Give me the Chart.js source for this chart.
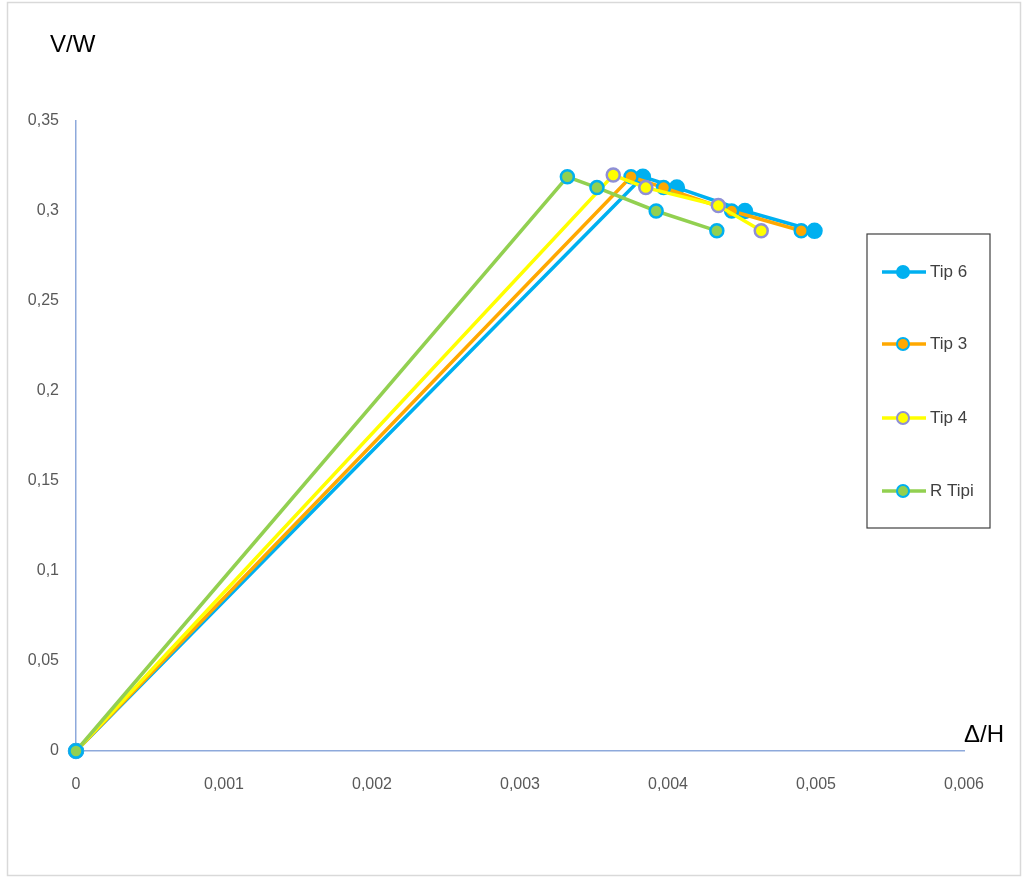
<!DOCTYPE html>
<html lang="tr">
<head>
    <meta charset="UTF-8">
    <title>V/W - Δ/H</title>
    <script src="https://cdn.jsdelivr.net/npm/chart.js"></script>
    <style>
        body { margin: 0; background: #fff; }
        canvas { display: block; }
    </style>
</head>
<body>
    <canvas id="chart" width="1026" height="878"></canvas>
    <script>
        // Seri adlari ve degerleri
        const seriesNames = ['Tip 6', 'Tip 3', 'Tip 4', 'R Tipi'];
        const tip6X = [0, 0.00383, 0.00406, 0.00452, 0.00499];
        const tip6Y = [0, 0.319, 0.313, 0.300, 0.289];
        const tip3X = [0, 0.00375, 0.00397, 0.00443, 0.00490];
        const tip3Y = [0, 0.319, 0.313, 0.300, 0.289];
        const tip4X = [0, 0.00363, 0.00385, 0.00434, 0.00463];
        const tip4Y = [0, 0.320, 0.313, 0.303, 0.289];
        const rTipiX = [0, 0.00332, 0.00352, 0.00392, 0.00433];
        const rTipiY = [0, 0.319, 0.313, 0.300, 0.289];
        const xTicks = [0, 0.001, 0.002, 0.003, 0.004, 0.005, 0.006];
        const yTicks = [0, 0.05, 0.1, 0.15, 0.2, 0.25, 0.3, 0.35];

        const toPoints = (xs, ys) => xs.map((x, i) => ({ x: x, y: ys[i] }));
        const fmt = v => String(Number(v.toFixed(4))).replace('.', ',');

        const styles = [
            { line: '#00B0F0', fill: '#00B0F0', border: '#00B0F0', r: 7 },
            { line: '#FFA800', fill: '#FFA800', border: '#00B0F0', r: 6.5 },
            { line: '#FFFF00', fill: '#FFFF00', border: '#8E8FD6', r: 6.5 },
            { line: '#92D050', fill: '#92D050', border: '#00B0F0', r: 6.5 }
        ];
        const seriesData = [
            toPoints(tip6X, tip6Y),
            toPoints(tip3X, tip3Y),
            toPoints(tip4X, tip4Y),
            toPoints(rTipiX, rTipiY)
        ];

        const datasets = seriesNames.map((name, i) => ({
            label: name,
            data: seriesData[i],
            showLine: true,
            borderColor: styles[i].line,
            borderWidth: 3.5,
            pointBackgroundColor: styles[i].fill,
            pointBorderColor: styles[i].border,
            pointBorderWidth: 2.5,
            pointRadius: styles[i].r,
            clip: false,
            order: 3 - i
        }));

        // Cerceve, eksen basliklari ve lejant
        const extras = {
            id: 'extras',
            beforeDraw(chart) {
                const c = chart.ctx;
                c.save();
                c.fillStyle = '#fff';
                c.fillRect(0, 0, chart.width, chart.height);
                c.strokeStyle = '#D9D9D9';
                c.lineWidth = 1.5;
                c.strokeRect(7.5, 2.5, 1013, 873);
                c.restore();
            },
            afterDraw(chart) {
                const c = chart.ctx;
                c.save();
                c.fillStyle = '#000';
                c.font = '24px "Liberation Sans", Arial, sans-serif';
                c.textBaseline = 'middle';
                c.textAlign = 'left';
                c.fillText('V/W', 50, 45);
                c.fillText('Δ/H', 964, 735);

                // lejant kutusu
                c.strokeStyle = '#404040';
                c.lineWidth = 1.2;
                c.strokeRect(867, 234, 123, 294);
                const rows = [272, 344, 418, 491];
                chart.data.datasets.forEach((ds, i) => {
                    const y = rows[i];
                    c.strokeStyle = ds.borderColor;
                    c.lineWidth = 3.5;
                    c.beginPath();
                    c.moveTo(882, y);
                    c.lineTo(926, y);
                    c.stroke();
                    c.beginPath();
                    c.arc(903, y, 6, 0, Math.PI * 2);
                    c.fillStyle = ds.pointBackgroundColor;
                    c.fill();
                    c.lineWidth = 2;
                    c.strokeStyle = ds.pointBorderColor;
                    c.stroke();
                    c.fillStyle = '#404040';
                    c.font = '17px "Liberation Sans", Arial, sans-serif';
                    c.fillText(ds.label, 930, y);
                });
                c.restore();
            }
        };

        new Chart(document.getElementById('chart'), {
            type: 'scatter',
            data: { datasets: datasets },
            options: {
                responsive: false,
                animation: false,
                layout: { padding: { left: 0, top: 121, right: 62, bottom: 0 } },
                plugins: { legend: { display: false }, tooltip: { enabled: false } },
                scales: {
                    x: {
                        type: 'linear',
                        min: 0,
                        max: 0.006,
                        afterBuildTicks: axis => { axis.ticks = xTicks.map(v => ({ value: v })); },
                        afterFit: axis => { axis.height = 127; },
                        grid: { display: false, drawTicks: false },
                        border: { color: '#8EA9DB', width: 1.5 },
                        ticks: {
                            padding: 24,
                            color: '#595959',
                            font: { size: 16, family: '"Liberation Sans", Arial, sans-serif' },
                            callback: v => fmt(v)
                        }
                    },
                    y: {
                        type: 'linear',
                        min: 0,
                        max: 0.35,
                        afterBuildTicks: axis => { axis.ticks = yTicks.map(v => ({ value: v })); },
                        afterFit: axis => { axis.width = 76; },
                        grid: { display: false, drawTicks: false },
                        border: { color: '#8EA9DB', width: 1.5 },
                        ticks: {
                            padding: 17,
                            color: '#595959',
                            font: { size: 16, family: '"Liberation Sans", Arial, sans-serif' },
                            callback: v => fmt(v)
                        }
                    }
                }
            },
            plugins: [extras]
        });
    </script>
</body>
</html>
